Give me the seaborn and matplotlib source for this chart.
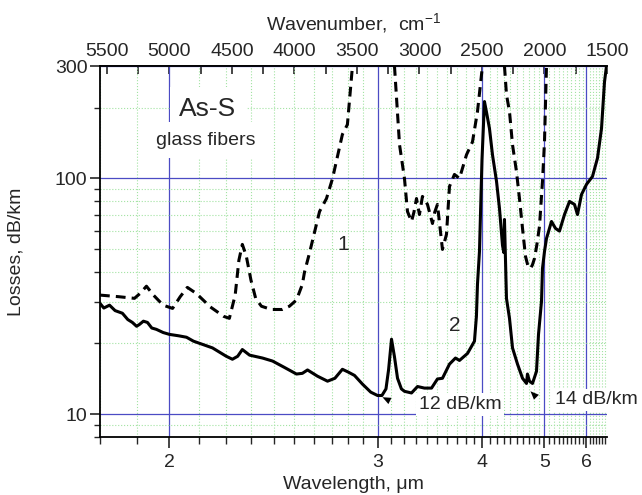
import matplotlib
matplotlib.use('Agg')
import matplotlib.pyplot as plt
import seaborn as sns
import numpy as np
import pandas as pd
from matplotlib.ticker import FixedLocator, NullFormatter, MultipleLocator

# curve 1 (dashed), three pieces between the off-scale absorption bands
wl1_a = [1.80, 1.85, 1.894, 1.91, 1.929, 1.95, 1.98, 2.01, 2.035, 2.059, 2.09, 2.14, 2.19, 2.212,
         2.235, 2.25, 2.264, 2.28, 2.30, 2.32, 2.345, 2.39, 2.44, 2.475, 2.51, 2.54, 2.551, 2.577,
         2.632, 2.671, 2.706, 2.765, 2.796, 2.828]
loss1_a = [32, 31.5, 31, 32.5, 34.9, 32, 29, 28.1, 31.5, 34.5, 32.5, 28.5, 26, 25.5,
           32, 45, 52.5, 47, 37, 31, 28.7, 27.8, 27.8, 28.7, 30.5, 35.5, 40, 48.1,
           72.4, 82.2, 100, 153.7, 169.3, 300]
wl1_b = [3.125, 3.165, 3.205, 3.23, 3.264, 3.285, 3.307, 3.333, 3.36, 3.406, 3.453, 3.475, 3.501,
         3.53, 3.551, 3.592, 3.623, 3.676, 3.731, 3.811, 3.882, 3.943, 4.006]
loss1_b = [300, 139, 100, 72.4, 65.7, 72, 82.2, 70.3, 83.9, 77.6, 64.4, 72, 77.6,
           60, 50, 57.9, 92.4, 104, 100, 126, 143, 192, 300]
wl1_c = [4.31, 4.34, 4.386, 4.433, 4.496, 4.545, 4.596, 4.647, 4.69, 4.735, 4.77, 4.808, 4.85,
         4.902, 4.96, 5.0, 5.04]
loss1_c = [300, 227, 192, 139, 107, 82.2, 61.4, 46.7, 42.5, 41.5, 43, 45.8, 52,
           62.7, 97.2, 143, 300]

# curve 2 (solid)
wl2 = [1.80, 1.81, 1.825, 1.84, 1.86, 1.875, 1.888, 1.90, 1.908, 1.92, 1.932, 1.945, 1.959, 1.98,
       2.00, 2.03, 2.056, 2.08, 2.10, 2.148, 2.20, 2.224, 2.245, 2.264, 2.294, 2.35, 2.395, 2.45,
       2.51, 2.54, 2.567, 2.62, 2.677, 2.72, 2.765, 2.80, 2.841, 2.894, 2.95, 2.998, 3.03, 3.06,
       3.08, 3.102, 3.125, 3.149, 3.18, 3.205, 3.264, 3.316, 3.378, 3.444, 3.501, 3.551, 3.623,
       3.687, 3.731, 3.823, 3.906, 3.93, 3.943, 3.968, 4.00, 4.032, 4.06, 4.098, 4.139, 4.195,
       4.237, 4.281, 4.30, 4.31, 4.34, 4.386, 4.433, 4.513, 4.596, 4.664, 4.681, 4.717, 4.771,
       4.845, 4.883, 4.941, 4.96, 5.0, 5.04, 5.144, 5.23, 5.319, 5.435, 5.556, 5.682, 5.76,
       5.869, 6.01, 6.188, 6.345, 6.477, 6.579, 6.649]
loss2 = [29.5, 28.2, 29.0, 27.5, 26.8, 25.2, 24.5, 23.6, 24.0, 24.8, 24.5, 23.2, 22.9, 22.2,
         21.8, 21.5, 21.2, 20.4, 20.0, 19.1, 17.6, 17.1, 17.6, 18.8, 17.8, 17.3, 16.8, 15.8,
         14.8, 14.9, 15.4, 14.5, 13.8, 14.2, 15.5, 15.1, 14.6, 13.4, 12.4, 12.0, 12.0, 12.8,
         15.5, 20.8, 17.5, 14.2, 12.8, 12.5, 12.3, 13.1, 12.9, 12.9, 14.1, 14.2, 16.3,
         17.3, 16.9, 18.1, 20.4, 26, 35.5, 49, 120, 212, 190, 163, 126, 97.2,
         74.7, 52, 48.5, 67, 31, 25.5, 19.1, 16.3, 14.2, 13.5, 14.8, 13.8, 13.5,
         15.2, 21.8, 30.1, 41.5, 49, 55.6, 65.7, 61.4, 59.8, 70.3, 79.9, 77.6, 70.3,
         85.5, 94.4, 102, 122, 163, 257, 300]

wl_major = [2, 3, 4, 5, 6]
wn_ticks = [5500, 5000, 4500, 4000, 3500, 3000, 2500, 2000, 1500]
y_major = [10, 100, 300]
y_minor = [8, 9, 20, 30, 40, 50, 60, 70, 80, 90, 200]

dash = pd.DataFrame({
    'wl': wl1_a + wl1_b + wl1_c,
    'loss': loss1_a + loss1_b + loss1_c,
    'seg': ['a'] * len(wl1_a) + ['b'] * len(wl1_b) + ['c'] * len(wl1_c),
})
solid = pd.DataFrame({'wl': wl2, 'loss': loss2})
dash['nu'] = 1e4 / dash['wl']
solid['nu'] = 1e4 / solid['wl']

sns.set_style('white')
plt.rcParams['font.family'] = ['Liberation Sans', 'DejaVu Sans']
plt.rcParams['mathtext.default'] = 'regular'

fig = plt.figure(figsize=(6.42, 4.95), dpi=100)
ax = fig.add_axes([100 / 642, 1 - 437 / 495, 507 / 642, 371 / 495])

sns.lineplot(data=dash, x='nu', y='loss', units='seg', estimator=None, sort=False,
             color='black', lw=2.2, linestyle=(0, (3.2, 2)), ax=ax, legend=False)
sns.lineplot(data=solid, x='nu', y='loss', estimator=None, sort=False,
             color='black', lw=2.2, ax=ax, legend=False)

ax.set_yscale('log')
ax.set_xlim(1e4 / 1.8, 1500)
ax.set_ylim(8, 300)

# bottom axis: wavelength ticks on a wavenumber-linear scale
wl_minor = [w / 10 for w in range(18, 67) if w % 10 != 0]
ax.xaxis.set_major_locator(FixedLocator([1e4 / w for w in wl_major]))
ax.set_xticklabels([str(w) for w in wl_major])
ax.xaxis.set_minor_locator(FixedLocator([1e4 / w for w in wl_minor]))
ax.xaxis.set_minor_formatter(NullFormatter())

ax.set_yticks(y_major, [str(v) for v in y_major])
ax.set_yticks(y_minor, minor=True)
ax.yaxis.set_minor_formatter(NullFormatter())

ax.tick_params(axis='x', which='major', direction='out', length=8, width=1.2,
               labelsize=14, top=False, bottom=True, pad=4)
ax.tick_params(axis='x', which='minor', direction='out', length=5, width=1.0, top=False, bottom=True)
ax.tick_params(axis='y', which='major', direction='out', length=7, width=1.2,
               labelsize=14, left=True, right=False, pad=2)
ax.tick_params(axis='y', which='minor', direction='out', length=4, width=1.0, left=True, right=False)

ax.set_axisbelow(True)
ax.grid(which='major', color='#4b4bc4', lw=0.9, ls='-')
ax.grid(which='minor', color='#a3e3a3', lw=0.8, ls=':')

for s in ['left', 'bottom', 'top']:
    ax.spines[s].set_color('black')
    ax.spines[s].set_linewidth(1.3)
ax.spines['right'].set_visible(False)

ax.set_xlabel('Wavelength, μm', fontsize=14, labelpad=4)
ax.set_ylabel('Losses, dB/km', fontsize=14, labelpad=22)

top = ax.secondary_xaxis('top')
top.set_xticks(wn_ticks, [str(v) for v in wn_ticks])
top.xaxis.set_minor_locator(MultipleLocator(250))
top.tick_params(which='major', direction='in', length=6, width=1.2, labelsize=14, pad=4)
top.tick_params(which='minor', direction='in', length=6, width=1.2)
top.spines['top'].set_linewidth(1.3)
top.set_xlabel('Wavenumber,  cm$^{-1}$', fontsize=14, labelpad=10)

box = dict(facecolor='white', edgecolor='none', pad=7)
ax.text(0.213, 0.885, 'As-S', transform=ax.transAxes, fontsize=19, ha='center', va='center', bbox=box)
ax.text(0.209, 0.80, 'glass fibers', transform=ax.transAxes, fontsize=14, ha='center', va='center', bbox=box)
ax.text(0.479, 0.52, '1', transform=ax.transAxes, fontsize=15, ha='center', va='center')
ax.text(0.70, 0.30, '2', transform=ax.transAxes, fontsize=15, ha='center', va='center')
ax.text(0.71, 0.088, '12 dB/km', transform=ax.transAxes, fontsize=14, ha='center', va='center',
        bbox=dict(facecolor='white', edgecolor='none', pad=2))
ax.text(0.98, 0.10, '14 dB/km', transform=ax.transAxes, fontsize=14, ha='center', va='center',
        bbox=dict(facecolor='white', edgecolor='none', pad=2), clip_on=False)

head = dict(arrowstyle='-|>,head_length=0.6,head_width=0.25', color='black', lw=0.01,
            shrinkA=0, shrinkB=0)
ax.annotate('', xy=(1e4 / 3.034, 11.8), xytext=(8, -4), textcoords='offset points', arrowprops=head)
ax.annotate('', xy=(1e4 / 4.735, 12.5), xytext=(6, -6), textcoords='offset points', arrowprops=head)

fig.savefig('out.png', dpi=100)
